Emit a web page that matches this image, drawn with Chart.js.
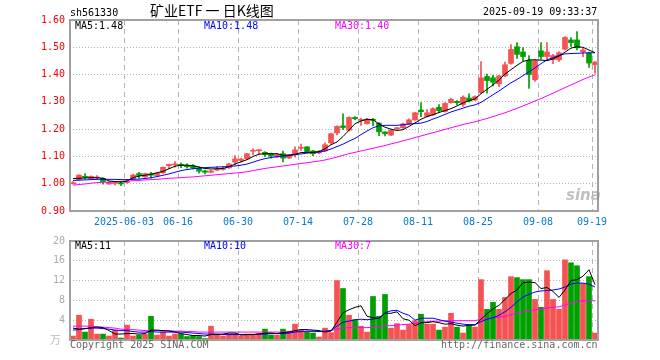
<!DOCTYPE html>
<html>
<head>
<meta charset="utf-8">
<script src="https://cdn.jsdelivr.net/npm/chart.js@4.4.1/dist/chart.umd.min.js"></script>
<style>
  body { margin: 0; background: #fff; width: 660px; height: 360px; position: relative; overflow: hidden;
         font-family: "DejaVu Sans Mono", "Liberation Mono", monospace; font-size: 10px; }
  canvas { position: absolute; left: 0; }
  #price { top: 0; }
  #vol { top: 230px; }
  .t { position: absolute; white-space: pre; line-height: 10px; }
</style>
</head>
<body>
<canvas id="price" width="660" height="232"></canvas>
<canvas id="vol" width="660" height="130"></canvas>

<div class="t" style="left:70px;top:8px;color:#000">sh561330</div>
<div class="t" style="left:150px;top:3px;font:14px/14px 'Noto Sans CJK SC',sans-serif;color:#000">矿业ETF 一 日K线图</div>
<div class="t" style="left:483px;top:7px;color:#000">2025-09-19 09:33:37</div>
<div class="t" style="left:75px;top:21px;color:#000">MA5:1.48</div>
<div class="t" style="left:204px;top:21px;color:#0000ff">MA10:1.48</div>
<div class="t" style="left:335px;top:21px;color:#ff00ff">MA30:1.40</div>
<div class="t" style="left:566px;top:188px;font:italic bold 15px/15px 'DejaVu Sans',sans-serif;color:rgba(140,140,140,0.55)">sina</div>

<div class="t" style="left:75px;top:241px;color:#000">MA5:11</div>
<div class="t" style="left:204px;top:241px;color:#0000ff">MA10:10</div>
<div class="t" style="left:335px;top:241px;color:#ff00ff">MA30:7</div>
<div class="t" style="left:50px;top:334px;font:11px/11px 'Noto Sans CJK SC',sans-serif;color:#bbb">万</div>
<div class="t" style="left:70px;top:340px;color:#666">Copyright 2025 SINA.COM</div>
<div class="t" style="left:441px;top:340px;color:#666">http://finance.sina.com.cn</div>

<script>
// trading days shown (2025)
const dates = [
  '05-20','05-21','05-22','05-23','05-26','05-27','05-28','05-29','05-30',
  '06-03','06-04','06-05','06-06','06-09','06-10','06-11','06-12','06-13','06-16','06-17',
  '06-18','06-19','06-20','06-23','06-24','06-25','06-26','06-27','06-30',
  '07-01','07-02','07-03','07-04','07-07','07-08','07-09','07-10','07-11','07-14','07-15',
  '07-16','07-17','07-18','07-21','07-22','07-23','07-24','07-25','07-28','07-29','07-30','07-31',
  '08-01','08-04','08-05','08-06','08-07','08-08','08-11','08-12','08-13','08-14','08-15',
  '08-18','08-19','08-20','08-21','08-22','08-25','08-26','08-27','08-28','08-29',
  '09-01','09-02','09-03','09-04','09-05','09-08','09-09','09-10','09-11','09-12',
  '09-15','09-16','09-17','09-18','09-19'
];
const tickDates = ['06-03','06-16','06-30','07-14','07-28','08-11','08-25','09-08','09-19'];

const open = [
  1.000,1.015,1.027,1.019,1.021,1.020,0.999,1.001,1.003,1.004,
  1.018,1.037,1.025,1.036,1.030,1.040,1.066,1.069,1.071,1.068,
  1.066,1.058,1.047,1.042,1.050,1.052,1.058,1.079,1.085,1.091,
  1.119,1.121,1.115,1.110,1.098,1.110,1.094,1.106,1.130,1.135,
  1.120,1.113,1.120,1.150,1.186,1.212,1.196,1.243,1.232,1.220,
  1.236,1.222,1.190,1.178,1.201,1.205,1.219,1.234,1.270,1.247,
  1.252,1.280,1.265,1.297,1.302,1.290,1.314,1.307,1.334,1.393,
  1.388,1.366,1.395,1.441,1.502,1.483,1.452,1.381,1.487,1.466,
  1.455,1.454,1.493,1.527,1.527,1.483,1.478,1.436
];
const high = [
  1.008,1.033,1.037,1.029,1.030,1.022,1.007,1.008,1.008,1.008,
  1.034,1.042,1.039,1.042,1.042,1.062,1.072,1.081,1.076,1.073,
  1.070,1.062,1.050,1.050,1.063,1.063,1.075,1.103,1.094,1.111,
  1.128,1.125,1.118,1.112,1.111,1.120,1.108,1.135,1.145,1.136,
  1.122,1.122,1.150,1.186,1.212,1.256,1.245,1.246,1.240,1.240,
  1.240,1.224,1.190,1.199,1.207,1.222,1.238,1.262,1.297,1.272,
  1.278,1.290,1.297,1.314,1.305,1.322,1.329,1.322,1.448,1.402,
  1.397,1.397,1.446,1.510,1.517,1.499,1.470,1.455,1.517,1.517,
  1.474,1.484,1.539,1.536,1.558,1.497,1.482,1.448
];
const low = [
  0.998,1.013,1.018,1.017,1.015,0.998,0.997,0.995,0.993,1.002,
  1.016,1.020,1.023,1.020,1.028,1.038,1.055,1.061,1.059,1.057,
  1.054,1.039,1.036,1.040,1.048,1.050,1.056,1.070,1.080,1.089,
  1.106,1.106,1.099,1.094,1.096,1.080,1.092,1.097,1.122,1.116,
  1.103,1.110,1.118,1.145,1.179,1.198,1.193,1.235,1.214,1.218,
  1.212,1.176,1.175,1.176,1.199,1.203,1.217,1.232,1.246,1.245,
  1.250,1.260,1.262,1.295,1.290,1.283,1.300,1.305,1.331,1.332,
  1.358,1.356,1.392,1.438,1.459,1.450,1.349,1.375,1.456,1.451,
  1.440,1.448,1.490,1.502,1.490,1.466,1.426,1.405
];
const close = [
  1.004,1.032,1.023,1.027,1.024,1.008,1.005,1.003,0.999,1.006,
  1.032,1.030,1.037,1.031,1.038,1.060,1.071,1.072,1.066,1.062,
  1.058,1.046,1.042,1.047,1.052,1.055,1.072,1.091,1.090,1.110,
  1.121,1.123,1.107,1.101,1.107,1.094,1.105,1.124,1.133,1.118,
  1.110,1.117,1.143,1.183,1.210,1.206,1.243,1.238,1.236,1.237,
  1.232,1.190,1.183,1.196,1.205,1.219,1.234,1.260,1.264,1.260,
  1.275,1.268,1.294,1.309,1.297,1.317,1.303,1.319,1.388,1.378,
  1.372,1.395,1.436,1.492,1.474,1.466,1.400,1.451,1.466,1.483,
  1.470,1.480,1.536,1.517,1.498,1.490,1.442,1.446
];
const ma5 = [
  1.019,1.020,1.021,1.022,1.022,1.020,1.010,1.008,1.006,1.010,
  1.022,1.028,1.031,1.035,1.040,1.045,1.055,1.064,1.068,1.068,
  1.066,1.061,1.056,1.054,1.055,1.056,1.062,1.072,1.080,1.088,
  1.100,1.108,1.110,1.110,1.110,1.104,1.105,1.108,1.114,1.115,
  1.115,1.118,1.128,1.143,1.153,1.173,1.196,1.220,1.230,1.236,
  1.234,1.219,1.207,1.200,1.195,1.198,1.210,1.223,1.236,1.246,
  1.253,1.261,1.268,1.275,1.285,1.296,1.304,1.311,1.330,1.346,
  1.362,1.380,1.402,1.418,1.434,1.448,1.454,1.454,1.453,1.451,
  1.457,1.468,1.482,1.497,1.502,1.500,1.490,1.480
];
const ma10 = [
  1.012,1.013,1.014,1.015,1.016,1.016,1.016,1.016,1.015,1.015,
  1.016,1.017,1.019,1.022,1.026,1.031,1.036,1.042,1.048,1.052,
  1.055,1.057,1.059,1.060,1.061,1.062,1.063,1.065,1.068,1.072,
  1.079,1.086,1.092,1.096,1.099,1.101,1.103,1.106,1.109,1.112,
  1.114,1.116,1.120,1.127,1.136,1.145,1.156,1.166,1.180,1.193,
  1.205,1.212,1.214,1.214,1.214,1.216,1.219,1.220,1.222,1.228,
  1.237,1.245,1.254,1.263,1.270,1.277,1.284,1.289,1.298,1.312,
  1.326,1.340,1.355,1.370,1.382,1.396,1.410,1.425,1.440,1.454,
  1.462,1.470,1.476,1.477,1.478,1.479,1.480,1.480
];
const ma30 = [
  0.995,0.997,0.999,1.002,1.004,1.005,1.006,1.007,1.009,1.010,
  1.011,1.012,1.014,1.015,1.016,1.018,1.020,1.021,1.022,1.024,
  1.025,1.027,1.029,1.031,1.033,1.035,1.037,1.039,1.041,1.044,
  1.048,1.052,1.056,1.059,1.062,1.065,1.068,1.071,1.074,1.077,
  1.080,1.083,1.087,1.092,1.098,1.104,1.110,1.115,1.120,1.125,
  1.130,1.135,1.140,1.146,1.151,1.157,1.163,1.169,1.175,1.181,
  1.187,1.193,1.199,1.205,1.211,1.217,1.222,1.227,1.233,1.239,
  1.246,1.253,1.260,1.268,1.276,1.285,1.294,1.303,1.312,1.322,
  1.332,1.342,1.352,1.362,1.372,1.382,1.391,1.399
];

// volume, 万手
const volume = [
  0.8,5.0,1.6,4.2,1.2,1.2,0.8,2.0,0.4,3.0,
  0.8,1.0,1.2,4.8,1.0,1.6,0.8,1.2,1.2,0.7,
  0.9,0.7,0.3,2.8,1.2,0.8,1.2,1.2,0.8,1.2,
  1.2,1.3,2.2,1.0,1.0,2.2,1.8,3.2,2.0,1.6,
  1.4,0.6,2.4,1.5,12.0,10.4,5.0,4.1,2.8,1.6,
  8.8,4.8,9.2,2.4,3.3,2.0,3.1,3.9,5.2,3.2,
  3.2,2.0,2.6,5.4,2.6,1.4,3.0,2.6,12.2,6.2,
  7.6,6.2,8.6,12.8,12.6,12.2,12.2,8.2,6.6,14.0,
  8.2,6.2,16.2,15.6,15.0,11.4,12.8,1.4
];
const volMa5 = [
  2.4,2.2,2.3,2.5,2.6,2.5,1.9,1.2,1.2,1.3,
  1.3,1.2,1.3,2.0,2.0,1.9,1.8,1.6,1.3,1.1,
  0.9,0.9,0.8,1.1,1.1,1.2,1.4,1.4,1.0,1.1,
  1.1,1.2,1.4,1.4,1.3,1.5,1.6,1.9,2.1,2.1,
  2.0,1.9,1.6,1.8,3.6,5.5,6.1,6.6,6.9,4.8,
  4.5,4.4,5.4,5.4,5.7,4.3,4.0,2.9,3.5,3.5,
  3.7,3.5,3.2,3.3,3.0,2.8,3.0,3.0,4.2,5.3,
  6.3,7.0,8.2,9.4,10.1,11.6,11.7,11.6,10.4,10.6,
  9.8,8.6,10.1,12.0,12.2,12.9,14.2,11.2
];
const volMa10 = [
  2.0,2.1,2.3,2.4,2.4,2.3,2.2,2.0,1.9,1.9,
  1.7,1.6,1.6,1.7,1.6,1.6,1.6,1.6,1.6,1.5,
  1.4,1.3,1.2,1.2,1.2,1.1,1.1,1.1,1.1,1.1,
  1.1,1.2,1.2,1.3,1.3,1.3,1.4,1.6,1.7,1.8,
  1.8,1.7,1.8,1.9,2.8,3.6,3.8,4.1,4.2,4.1,
  4.2,4.4,5.5,5.9,6.0,5.4,5.0,4.0,4.4,4.4,
  4.4,4.1,3.8,3.6,3.4,3.2,3.1,3.1,3.7,4.2,
  4.5,5.0,5.7,6.6,7.7,8.7,9.2,9.7,9.9,10.0,
  10.1,10.3,10.7,11.3,11.5,11.5,11.3,10.7
];
const volMa30 = [
  2.8,2.8,2.8,2.8,2.7,2.6,2.5,2.4,2.2,2.1,
  2.1,2.0,1.9,1.9,1.9,1.9,1.9,1.8,1.8,1.7,
  1.7,1.6,1.6,1.6,1.6,1.6,1.6,1.6,1.6,1.6,
  1.6,1.6,1.6,1.6,1.6,1.6,1.6,1.7,1.7,1.7,
  1.7,1.7,1.8,1.9,2.2,2.4,2.5,2.5,2.5,2.5,
  2.6,2.7,2.9,2.9,3.0,3.1,3.2,3.4,3.6,3.7,
  3.8,3.8,3.9,3.9,3.9,3.9,3.9,3.9,4.2,4.3,
  4.5,4.6,4.8,5.1,5.4,5.7,5.9,6.1,6.2,6.5,
  6.6,6.7,7.1,7.4,7.7,7.9,8.0,7.9
];

const UP = '#f55353';
const DOWN = '#00a000';
const GRID = '#b4b4b4';
const FRAME = '#a0a0a0';
const mono = { family: "'DejaVu Sans Mono','Liberation Mono',monospace", size: 10 };

const candleColors = close.map((c, i) => c >= open[i] ? UP : DOWN);
const wicks = dates.map((d, i) => [low[i], high[i]]);
const bodies = dates.map((d, i) => [open[i], close[i]]);
const shownTicks = new Set(tickDates.map(d => dates.indexOf(d)));

const frame = {
  id: 'frame',
  afterDraw(chart) {
    const { ctx, chartArea: a } = chart;
    ctx.save();
    ctx.strokeStyle = FRAME;
    ctx.lineWidth = 2;
    ctx.strokeRect(a.left, a.top, a.right - a.left, a.bottom - a.top);
    ctx.restore();
  }
};

function maLine(data, color) {
  return {
    type: 'line', data, borderColor: color, borderWidth: 1,
    pointRadius: 0, tension: 0, order: 0,
  };
}

function xScale(showLabels) {
  return {
    offset: true,
    grid: {
      offset: true,
      drawTicks: false,
      color: ctx => shownTicks.has(ctx.index) ? GRID : 'rgba(0,0,0,0)',
    },
    border: { display: false, dash: [5, 4] },
    ticks: {
      display: showLabels,
      autoSkip: false,
      maxRotation: 0,
      labelOffset: -3,
      padding: 5,
      color: '#0a7ad0',
      font: mono,
      callback(v, i) {
        if (!shownTicks.has(i)) return '';
        return i === 9 ? '2025-' + dates[i] : dates[i];
      },
    },
    afterFit(s) { s.height = showLabels ? 21 : 0; },
  };
}

new Chart(document.getElementById('price'), {
  type: 'bar',
  data: {
    labels: dates,
    datasets: [
      maLine(ma5, '#000000'),
      maLine(ma10, '#0000ff'),
      maLine(ma30, '#ff00ff'),
      {
        data: bodies, backgroundColor: candleColors, barThickness: 5,
        minBarLength: 1, grouped: false, order: 1,
      },
      {
        data: wicks, backgroundColor: candleColors, barThickness: 1,
        grouped: false, order: 2,
      },
    ],
  },
  options: {
    responsive: false,
    animation: false,
    layout: { padding: { top: 20, right: 62, left: 0, bottom: 0 } },
    plugins: { legend: { display: false }, tooltip: { enabled: false } },
    scales: {
      x: xScale(true),
      y: {
        min: 0.9,
        max: 1.6,
        ticks: {
          stepSize: 0.1, padding: 5, color: '#ff0000', font: mono,
          callback: v => v.toFixed(2),
        },
        grid: { color: GRID, drawTicks: false },
        border: { display: false, dash: [1, 2] },
        afterFit(s) { s.width = 70; },
      },
    },
  },
  plugins: [frame],
});

new Chart(document.getElementById('vol'), {
  type: 'bar',
  data: {
    labels: dates,
    datasets: [
      maLine(volMa5, '#000000'),
      maLine(volMa10, '#0000ff'),
      maLine(volMa30, '#ff00ff'),
      { data: volume, backgroundColor: candleColors, barThickness: 5, order: 1 },
    ],
  },
  options: {
    responsive: false,
    animation: false,
    layout: { padding: { top: 10, right: 62, left: 0, bottom: 20 } },
    plugins: { legend: { display: false }, tooltip: { enabled: false } },
    scales: {
      x: xScale(false),
      y: {
        min: 0,
        max: 20,
        ticks: {
          stepSize: 4, padding: 5, color: '#aaaaaa', font: mono,
          callback: v => v === 0 ? '' : v,
        },
        grid: { color: GRID, drawTicks: false },
        border: { display: false, dash: [1, 2] },
        afterFit(s) { s.width = 70; },
      },
    },
  },
  plugins: [frame],
});
</script>
</body>
</html>
